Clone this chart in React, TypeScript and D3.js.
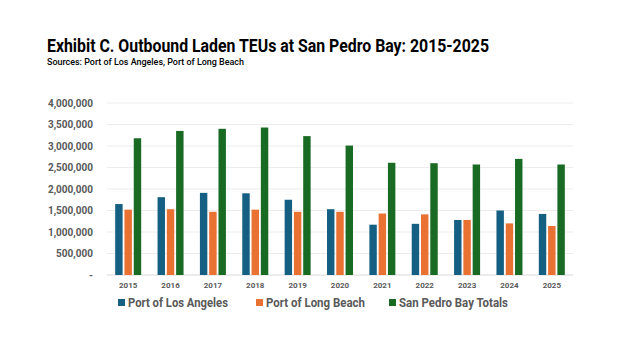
import React from 'react';
import * as d3 from 'd3';

const years = ['2015', '2016', '2017', '2018', '2019', '2020', '2021', '2022', '2023', '2024', '2025'];
const losAngeles = [1650000, 1810000, 1910000, 1900000, 1750000, 1530000, 1170000, 1190000, 1280000, 1500000, 1420000];
const longBeach = [1520000, 1530000, 1470000, 1520000, 1470000, 1470000, 1430000, 1410000, 1280000, 1200000, 1140000];
const totals = [3180000, 3350000, 3400000, 3430000, 3230000, 3010000, 2610000, 2600000, 2570000, 2700000, 2570000];
const seriesNames = ['Port of Los Angeles', 'Port of Long Beach', 'San Pedro Bay Totals'];
const yTicks = [0, 500000, 1000000, 1500000, 2000000, 2500000, 3000000, 3500000, 4000000];

const colors = ['#156082', '#E97132', '#196B24'];
const font = 'Roboto, "Liberation Sans", Arial, sans-serif';

const App = () => {
    const width = 624;
    const height = 351;
    const margin = { top: 103, right: 51, bottom: 76, left: 107 };

    const x = d3
        .scaleBand()
        .domain(years)
        .range([margin.left, width - margin.right]);

    const inner = d3
        .scaleBand()
        .domain(['0', '1', '2'])
        .range([0, 26])
        .paddingInner(0.2);

    const y = d3
        .scaleLinear()
        .domain([0, 4000000])
        .range([height - margin.bottom, margin.top]);

    const series = [losAngeles, longBeach, totals];
    const offset = (x.bandwidth() - 26) / 2;

    const legendX = [118, 256, 389];
    const legendW = [100, 99, 109];

    return (
        <svg width={width} height={height} style={{ position: 'absolute', left: 0, top: 0, background: '#fff' }}>
            <text x={47} y={52} fontFamily={font} fontWeight={700} fontSize={18} fill="#000" textLength={442} lengthAdjust="spacingAndGlyphs">
                Exhibit C. Outbound Laden TEUs at San Pedro Bay: 2015-2025
            </text>
            <text x={47} y={65} fontFamily={font} fontWeight={500} fontSize={9.5} fill="#000" textLength={197} lengthAdjust="spacingAndGlyphs">
                Sources: Port of Los Angeles, Port of Long Beach
            </text>

            {/* gridlines and y labels */}
            {yTicks.map(t => (
                <g key={t}>
                    <line x1={margin.left} x2={width - margin.right} y1={y(t)} y2={y(t)} stroke={t === 0 ? '#d9d9d9' : '#ececec'} strokeWidth={1} />
                    <text x={93} y={y(t)} dy="0.35em" textAnchor="end" fontFamily={font} fontWeight={700} fontSize={10} fill="#595959">
                        {t === 0 ? '-' : d3.format(',')(t)}
                    </text>
                </g>
            ))}

            {/* bars */}
            {years.map((yr, i) => (
                <g key={yr} transform={`translate(${(x(yr) || 0) + offset},0)`}>
                    {series.map((s, j) => (
                        <rect
                            key={j}
                            x={inner(String(j))}
                            y={y(s[i])}
                            width={inner.bandwidth()}
                            height={y(0) - y(s[i])}
                            fill={colors[j]}
                        />
                    ))}
                </g>
            ))}

            {/* x labels */}
            {years.map(yr => (
                <text key={yr} x={(x(yr) || 0) + x.bandwidth() / 2} y={288} textAnchor="middle" fontFamily={font} fontWeight={700} fontSize={8} fill="#595959">
                    {yr}
                </text>
            ))}

            {/* legend */}
            {seriesNames.map((name, j) => (
                <g key={name}>
                    <rect x={legendX[j]} y={299} width={7} height={7} fill={colors[j]} />
                    <text x={legendX[j] + 10} y={303} dy="0.35em" fontFamily={font} fontWeight={700} fontSize={12} fill="#595959" textLength={legendW[j]} lengthAdjust="spacingAndGlyphs">
                        {name}
                    </text>
                </g>
            ))}
        </svg>
    );
};

export default App;
